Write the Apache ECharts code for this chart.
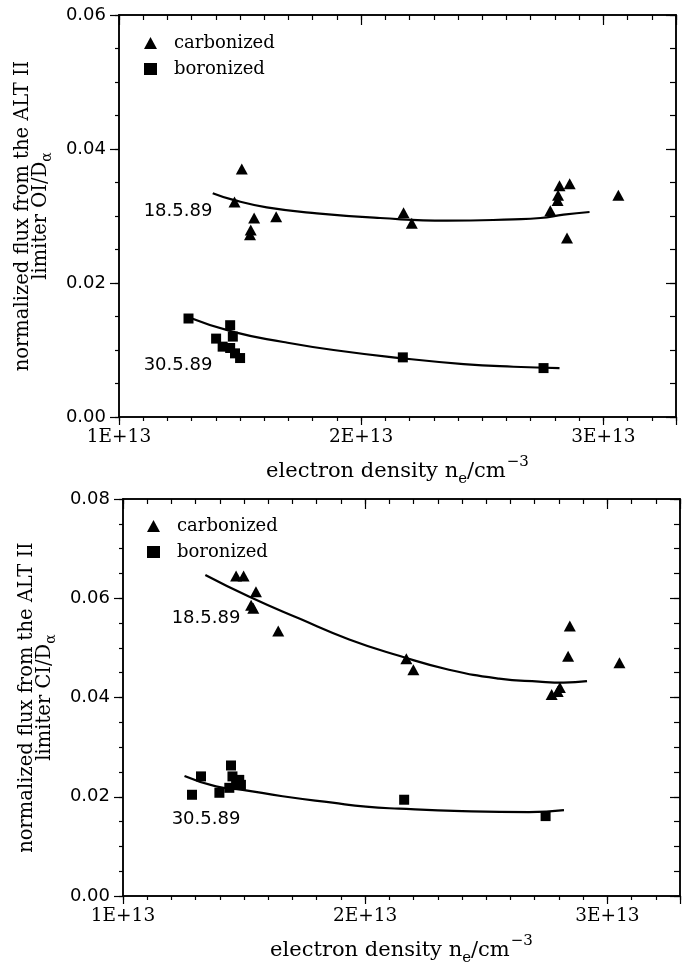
<!DOCTYPE html>
<html><head><meta charset="utf-8">
<script src="https://cdn.jsdelivr.net/npm/echarts@6/dist/echarts.min.js"></script>
<style>html,body{margin:0;padding:0;background:#fff}#c{width:684px;height:967px}</style>
</head><body><div id="c"></div>
<script>
// x values in units of 1E+13 cm^-3
const xTickValues = [1, 2, 3];
const xTickLabels = ['1E+13', '2E+13', '3E+13'];
const xMin = 1, xMax = 3.3;

// ---- top panel: OI / D_alpha ----
const topCarbonized = [
  [1.507,0.0370],[1.477,0.0321],[1.558,0.0297],[1.544,0.0279],[1.541,0.0272],[1.649,0.0299],
  [2.175,0.0305],[2.209,0.0289],
  [2.781,0.0308],[2.811,0.0323],[2.813,0.0331],[2.819,0.0345],[2.861,0.0348],[2.850,0.0267],[3.062,0.0331]
];
const topBoronized = [
  [1.287,0.0147],[1.459,0.0137],[1.401,0.0117],[1.470,0.0120],[1.428,0.0105],[1.459,0.0103],
  [1.479,0.0095],[1.500,0.0088],[2.172,0.0089],[2.753,0.0073]
];
const topCarbFit = [[1.387,0.0334],[1.472,0.0324],[1.610,0.0313],[1.817,0.0304],[2.078,0.0297],[2.354,0.0293],[2.629,0.0295],[2.740,0.0297],[2.836,0.0302],[2.943,0.0306]];
const topBorFit = [[1.287,0.0149],[1.472,0.0127],[1.679,0.0112],[1.886,0.0100],[2.161,0.0088],[2.423,0.0079],[2.629,0.0075],[2.819,0.0073]];

// ---- bottom panel: CI / D_alpha ----
const bottomCarbonized = [
  [1.467,0.0645],[1.498,0.0645],[1.549,0.0613],[1.529,0.0586],[1.538,0.0580],[1.641,0.0534],
  [2.170,0.0478],[2.199,0.0456],[2.845,0.0544],[2.838,0.0483],[3.050,0.0470],
  [2.770,0.0406],[2.795,0.0412],[2.804,0.0420]
];
const bottomBoronized = [
  [1.285,0.0204],[1.322,0.0241],[1.398,0.0208],[1.446,0.0263],[1.452,0.0241],[1.439,0.0218],
  [1.480,0.0234],[1.487,0.0224],[1.467,0.0227],[2.161,0.0194],[2.745,0.0161]
];
const bottomCarbFit = [[1.340,0.0647],[1.522,0.0603],[1.728,0.0559],[1.934,0.0517],[2.140,0.0484],[2.346,0.0456],[2.553,0.0438],[2.718,0.0432],[2.820,0.0430],[2.916,0.0433]];
const bottomBorFit = [[1.254,0.0242],[1.384,0.0221],[1.494,0.0214],[1.659,0.0201],[1.865,0.0188],[2.003,0.0180],[2.140,0.0176],[2.401,0.0171],[2.676,0.0169],[2.821,0.0173]];

const legendNames = ['carbonized', 'boronized'];
const dateLabels = ['18.5.89', '30.5.89'];
const topYMax = 0.06, bottomYMax = 0.08;

const INK = '#000';
const SERIF = 'DejaVu Serif', SANS = 'DejaVu Sans';

const chart = echarts.init(document.getElementById('c'), null, {renderer: 'canvas'});

const xTitle = '{a|electron density n}{sub|e}{a|/cm}{sup|−3}';
const xTitleStyle = {
  fontFamily: SERIF, color: INK,
  rich: {
    a: {fontFamily: SERIF, fontSize: 21, lineHeight: 21, verticalAlign: 'top', padding: [6,0,0,0], color: INK},
    sub: {fontFamily: SERIF, fontSize: 15, lineHeight: 15, verticalAlign: 'top', padding: [17,0,0,0], color: INK},
    sup: {fontFamily: SERIF, fontSize: 15, lineHeight: 15, verticalAlign: 'top', padding: [0,0,0,1], color: INK}
  }
};
function yTitleStyle() {
  return {
    fontFamily: SERIF, color: INK, align: 'center',
    rich: {
      a: {fontFamily: SERIF, fontSize: 19.5, lineHeight: 18, verticalAlign: 'top', color: INK, align: 'center'},
      sub: {fontFamily: SERIF, fontSize: 14, lineHeight: 14, verticalAlign: 'top', padding: [9,0,0,0], color: INK, align: 'center'}
    }
  };
}

function xLabelFmt(v) {
  const i = xTickValues.indexOf(Math.round(v * 1000) / 1000);
  return i >= 0 ? xTickLabels[i] : '';
}

function makeXAxes(g) {
  const base = {gridIndex: g, type: 'value', min: xMin, max: xMax, splitLine: {show: false},
    axisLine: {onZero: false, lineStyle: {color: INK, width: 1.5}}, axisLabel: {show: false}, silent: true};
  const tick = (len, inside) => ({show: true, inside: inside, length: len, lineStyle: {color: INK, width: 1.2}});
  return [
    Object.assign({}, base, {position: 'bottom', interval: 0.1, axisTick: tick(4, false)}),
    Object.assign({}, base, {position: 'bottom', interval: 1, axisTick: tick(8, false),
      axisLabel: {show: true, formatter: xLabelFmt, margin: 11, fontFamily: SERIF, fontSize: 18.5, color: INK},
      name: xTitle, nameLocation: 'middle', nameGap: 38, nameTextStyle: xTitleStyle}),
    Object.assign({}, base, {position: 'top', interval: 0.1, axisTick: tick(5, true)}),
    Object.assign({}, base, {position: 'top', interval: 1, axisTick: tick(10, true)})
  ];
}

function makeYAxes(g, yMax, ratio) {
  const base = {gridIndex: g, type: 'value', min: 0, max: yMax, splitLine: {show: false},
    axisLine: {onZero: false, lineStyle: {color: INK, width: 1.5}}, axisLabel: {show: false}, silent: true};
  const tick = (len, inside) => ({show: true, inside: inside, length: len, lineStyle: {color: INK, width: 1.2}});
  return [
    Object.assign({}, base, {position: 'left', interval: 0.005, axisTick: tick(4, false)}),
    Object.assign({}, base, {position: 'left', interval: 0.02, axisTick: tick(9, false),
      axisLabel: {show: true, formatter: v => v.toFixed(2), margin: 13, fontFamily: SANS, fontSize: 18, color: INK},
      name: '{a|normalized flux from the ALT II}\n{a|limiter ' + ratio + '/D}{sub|α}',
      nameLocation: 'middle', nameRotate: 90, nameGap: 70, nameTextStyle: yTitleStyle()}),
    Object.assign({}, base, {position: 'right', interval: 0.005, axisTick: tick(6, true)}),
    Object.assign({}, base, {position: 'right', interval: 0.02, axisTick: tick(10, true)})
  ];
}

function panelSeries(xi, yi, carb, bor, carbFit, borFit) {
  return [
    {type: 'scatter', name: legendNames[0], xAxisIndex: xi, yAxisIndex: yi, data: carb,
      symbol: 'triangle', symbolSize: [12, 11], itemStyle: {color: INK, opacity: 1}, z: 3},
    {type: 'scatter', name: legendNames[1], xAxisIndex: xi, yAxisIndex: yi, data: bor,
      symbol: 'rect', symbolSize: 10, itemStyle: {color: INK, opacity: 1}, z: 3},
    {type: 'line', name: 'fit C', xAxisIndex: xi, yAxisIndex: yi, data: carbFit, smooth: true,
      showSymbol: false, lineStyle: {color: INK, width: 2.2}, z: 2},
    {type: 'line', name: 'fit B', xAxisIndex: xi, yAxisIndex: yi, data: borFit, smooth: true,
      showSymbol: false, lineStyle: {color: INK, width: 2.2}, z: 2}
  ];
}

function legend(left, top) {
  return {
    left: left, top: top, orient: 'vertical', selectedMode: false,
    itemWidth: 13, itemHeight: 12, itemGap: 8,
    data: [{name: legendNames[0], icon: 'triangle'}, {name: legendNames[1], icon: 'rect'}],
    itemStyle: {color: INK, opacity: 1},
    textStyle: {fontFamily: SERIF, fontSize: 18, color: INK, lineHeight: 14, padding: [0,0,0,12]}
  };
}

function dateText(x, y, t) {
  return {type: 'text', x: x, y: y, silent: true,
    style: {text: t, fontFamily: SANS, fontSize: 18, fill: INK, align: 'center', verticalAlign: 'middle'}};
}

const option = {
  animation: false,
  backgroundColor: '#fff',
  grid: [
    {left: 119, right: 8, top: 15, height: 402},
    {left: 123, right: 4, top: 499, height: 402}
  ],
  xAxis: makeXAxes(0).concat(makeXAxes(1)),
  yAxis: makeYAxes(0, topYMax, 'OI').concat(makeYAxes(1, bottomYMax, 'CI')),
  legend: [legend(139, 29), legend(142, 512)],
  graphic: [
    dateText(178, 211, dateLabels[0]),
    dateText(178, 365, dateLabels[1]),
    dateText(206, 618, dateLabels[0]),
    dateText(206, 819, dateLabels[1])
  ],
  series: panelSeries(1, 1, topCarbonized, topBoronized, topCarbFit, topBorFit)
    .concat(panelSeries(5, 5, bottomCarbonized, bottomBoronized, bottomCarbFit, bottomBorFit))
};
chart.setOption(option);
</script></body></html>
